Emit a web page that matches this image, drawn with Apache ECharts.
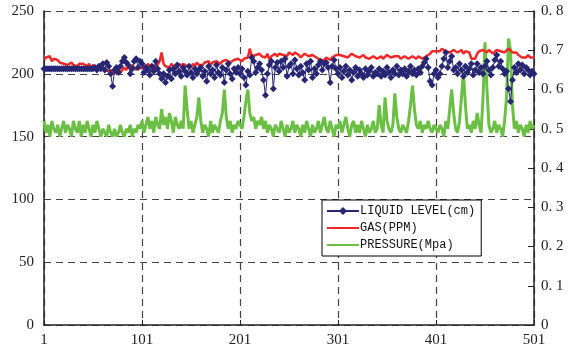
<!DOCTYPE html>
<html>
<head>
<meta charset="utf-8">
<script src="https://cdn.jsdelivr.net/npm/echarts@6/dist/echarts.min.js"></script>
<style>
html, body { margin: 0; padding: 0; background: #fff; }
#chart { width: 571px; height: 354px; }
</style>
</head>
<body>
<div id="chart"></div>
<script>
// one sample every 2 records, record number = 2*i + 1
var step = 2;
var xTicks = [1, 101, 201, 301, 401, 501];

var liquidLevel = [
    204,204,204,204,204,204,204,204,204,204,
    204,204,204,204,204,204,204,204,204,204,
    204,204,204,204,204,204,205,203,206,204,
    208,203,209,206,200,190,203,205,201,206,
    210,213,209,207,200,204,210,212,205,210,
    208,201,205,203,199,206,202,210,204,200,
    196,200,193,198,203,196,204,200,207,202,
    198,205,202,199,206,201,197,204,200,203,
    205,198,202,194,206,200,203,197,207,201,
    199,205,193,203,208,200,196,204,201,205,
    200,204,197,191,202,199,213,210,201,205,
    208,203,195,183,200,207,210,188,205,209,
    202,210,205,212,198,206,208,200,211,204,
    199,206,201,195,208,203,210,197,204,200,
    207,210,203,208,209,205,193,206,211,204,
    200,205,197,202,206,199,203,195,201,205,
    198,203,200,197,204,199,202,205,198,201,
    200,204,198,202,199,205,201,197,203,200,
    206,199,203,200,204,198,202,206,200,203,
    199,204,201,206,209,212,205,194,191,200,
    203,197,200,206,212,217,205,210,214,203,
    205,200,208,203,198,206,201,204,208,199,
    203,208,201,205,200,206,210,203,199,205,
    211,215,206,210,204,200,202,188,178,195,
    205,201,208,203,207,200,205,203,199,202,
    200
];

var gas = [
    211,213,212,214,210,212,213,211,209,210,
    208,209,207,208,209,207,208,206,208,207,
    208,207,206,208,205,207,206,204,205,203,
    205,203,204,202,201,203,200,202,204,201,
    202,205,203,206,204,207,205,203,206,205,
    204,207,205,208,206,204,207,205,206,210,
    217,208,206,207,205,208,206,207,205,208,
    206,208,209,206,207,205,208,206,209,207,
    208,207,209,208,210,207,209,208,210,209,
    208,210,209,211,210,209,210,211,210,212,
    211,210,212,211,213,220,214,213,215,214,
    216,214,215,213,216,211,214,215,216,214,
    216,217,215,216,214,217,216,215,217,216,
    215,213,214,216,215,214,213,215,214,213,
    212,211,212,211,213,212,211,213,214,215,
    214,215,216,214,215,213,214,216,215,214,
    215,213,214,215,213,214,212,213,214,213,
    212,213,214,212,213,215,214,213,212,214,
    213,214,212,213,214,213,212,213,214,213,
    212,214,213,212,213,214,213,216,218,217,
    218,219,218,220,219,218,219,217,218,219,
    218,217,218,219,216,218,219,217,212,211,
    212,216,218,217,219,218,217,219,218,216,
    217,219,220,218,219,217,218,220,219,217,
    218,217,215,214,213,214,213,215,213,214,
    213
];

var pressure = [
    0.52,0.49,0.51,0.48,0.52,0.50,0.49,0.51,0.48,0.50,
    0.52,0.49,0.51,0.50,0.48,0.52,0.50,0.49,0.52,0.48,
    0.51,0.49,0.52,0.50,0.48,0.51,0.49,0.52,0.50,0.48,
    0.50,0.49,0.48,0.51,0.49,0.48,0.50,0.48,0.49,0.51,
    0.49,0.48,0.50,0.49,0.51,0.48,0.50,0.49,0.51,0.50,
    0.52,0.49,0.51,0.53,0.50,0.52,0.49,0.53,0.51,0.50,
    0.55,0.51,0.53,0.50,0.54,0.52,0.49,0.53,0.51,0.50,
    0.52,0.50,0.61,0.55,0.50,0.52,0.49,0.51,0.53,0.58,
    0.52,0.49,0.51,0.50,0.48,0.52,0.49,0.51,0.50,0.49,
    0.52,0.54,0.60,0.53,0.50,0.52,0.49,0.51,0.50,0.52,
    0.51,0.50,0.53,0.57,0.60,0.54,0.52,0.53,0.50,0.52,
    0.51,0.53,0.50,0.52,0.49,0.51,0.50,0.48,0.51,0.50,
    0.49,0.52,0.50,0.48,0.51,0.49,0.50,0.52,0.49,0.51,
    0.50,0.48,0.51,0.49,0.52,0.50,0.48,0.51,0.49,0.50,
    0.52,0.49,0.51,0.53,0.50,0.49,0.52,0.50,0.48,0.51,
    0.50,0.52,0.49,0.51,0.53,0.50,0.48,0.51,0.52,0.49,
    0.51,0.49,0.52,0.50,0.48,0.51,0.49,0.50,0.52,0.49,
    0.50,0.56,0.51,0.49,0.58,0.52,0.50,0.49,0.51,0.59,
    0.53,0.50,0.49,0.51,0.50,0.49,0.52,0.56,0.61,0.55,
    0.51,0.50,0.52,0.49,0.51,0.50,0.52,0.50,0.49,0.51,
    0.50,0.49,0.51,0.50,0.48,0.52,0.50,0.55,0.60,0.54,
    0.50,0.49,0.52,0.58,0.645,0.56,0.50,0.51,0.49,0.52,
    0.50,0.54,0.51,0.49,0.58,0.72,0.60,0.51,0.49,0.50,
    0.52,0.49,0.51,0.50,0.48,0.52,0.58,0.73,0.70,0.56,
    0.50,0.52,0.49,0.51,0.50,0.48,0.51,0.49,0.52,0.50,
    0.51
];

function toPoints(arr) {
    return arr.map(function (v, i) { return [i * step, v]; });
}

var chartDom = document.getElementById('chart');
var myChart = echarts.init(chartDom);
var option;

var serif = "'Liberation Serif', 'DejaVu Serif', serif";
var dash = [7, 5];
var noMarker = { color: 'rgba(0,0,0,0)', borderWidth: 0, opacity: 0 };

option = {
    animation: false,
    backgroundColor: '#fff',
    grid: {
        left: 44,
        right: 37,
        top: 11,
        bottom: 29
    },
    legend: {
        orient: 'vertical',
        left: 322,
        top: 200,
        width: 180,
        padding: [5, 6, 5, 4],
        itemGap: 5,
        itemWidth: 32,
        itemHeight: 10,
        borderColor: '#000',
        borderWidth: 1,
        backgroundColor: '#fff',
        textStyle: {
            fontFamily: "'Liberation Mono', monospace",
            fontSize: 12,
            color: '#111',
            padding: [0, 0, 0, -4]
        },
        data: [
            { name: 'LIQUID LEVEL(cm)' },
            { name: 'GAS(PPM)', itemStyle: noMarker },
            { name: 'PRESSURE(Mpa)', itemStyle: noMarker }
        ]
    },
    xAxis: {
        type: 'value',
        min: 0,
        max: 500,
        interval: 100,
        axisLine: { show: true, onZero: false, lineStyle: { color: '#222', width: 1.5 } },
        axisTick: { show: true, inside: true, length: 5, lineStyle: { color: '#222' } },
        axisLabel: {
            color: '#222',
            fontFamily: serif,
            fontSize: 15,
            margin: 8,
            formatter: function (v) { return xTicks[v / 100]; }
        },
        splitLine: { show: true, lineStyle: { color: '#444', type: dash, width: 1.2 } }
    },
    yAxis: [
        {
            type: 'value',
            min: 0,
            max: 250,
            interval: 50,
            axisLine: { show: true, lineStyle: { color: '#222', width: 1.5 } },
            axisTick: { show: false },
            axisLabel: { color: '#222', fontFamily: serif, fontSize: 15, margin: 10 },
            splitLine: { show: true, lineStyle: { color: '#444', type: dash, width: 1.2 } }
        },
        {
            type: 'value',
            min: 0,
            max: 0.8,
            interval: 0.1,
            position: 'right',
            axisLine: { show: true, lineStyle: { color: '#222', width: 1.5 } },
            axisTick: { show: true, inside: true, length: 6, lineStyle: { color: '#222' } },
            axisLabel: {
                color: '#222',
                fontFamily: serif,
                fontSize: 15,
                margin: 7,
                formatter: function (v) {
                    return v === 0 ? '0' : v.toFixed(1).replace('.', '. ');
                }
            },
            splitLine: { show: false }
        }
    ],
    series: [
        {
            name: 'LIQUID LEVEL(cm)',
            type: 'line',
            yAxisIndex: 0,
            z: 4,
            symbol: 'diamond',
            symbolSize: 7,
            showSymbol: true,
            lineStyle: { color: '#262673', width: 1 },
            itemStyle: { color: '#262673' },
            data: toPoints(liquidLevel)
        },
        {
            name: 'GAS(PPM)',
            type: 'line',
            yAxisIndex: 0,
            z: 3,
            symbol: 'none',
            lineStyle: { color: '#f02828', width: 2.5 },
            itemStyle: { color: '#f02828' },
            data: toPoints(gas)
        },
        {
            name: 'PRESSURE(Mpa)',
            type: 'line',
            yAxisIndex: 1,
            z: 2,
            symbol: 'none',
            lineStyle: { color: '#6cbf45', width: 3 },
            itemStyle: { color: '#6cbf45' },
            data: toPoints(pressure)
        }
    ]
};

option && myChart.setOption(option);
</script>
</body>
</html>
